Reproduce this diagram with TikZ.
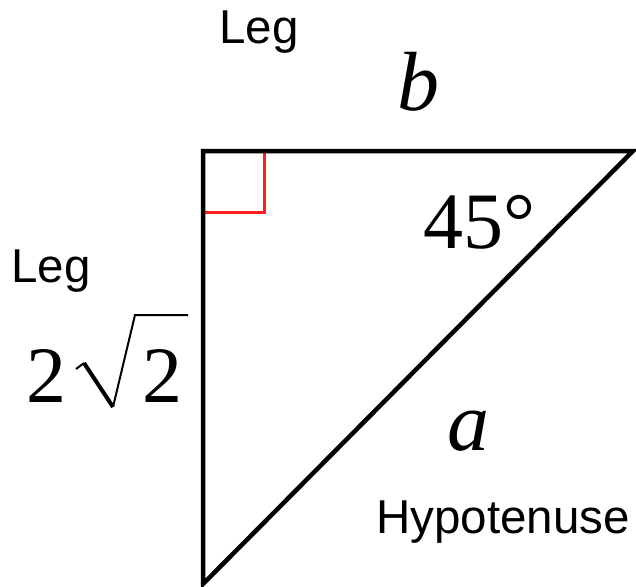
\documentclass[tikz,border=0pt]{standalone}
\usepackage{fontspec}
\newfontfamily\labelfont{Liberation Sans}
\newfontfamily\mathfont{Liberation Serif}
\definecolor{markred}{RGB}{255,30,30}
\begin{document}
\begin{tikzpicture}[x=1pt,y=-1pt,
  side/.style={line width=4.5pt,line join=miter},
  rightmark/.style={markred,line width=3pt},
  wordlbl/.style={font=\labelfont\fontsize{47.5}{52}\selectfont,anchor=base,inner sep=0pt},
  varlbl/.style={font=\mathfont\itshape\fontsize{84}{90}\selectfont,anchor=base,inner sep=0pt},
  numlbl/.style={font=\mathfont\fontsize{80}{90}\selectfont,anchor=base,inner sep=0pt}]
\useasboundingbox (0,0) rectangle (636,586);
\coordinate (A) at (203,151);
\coordinate (B) at (633,151);
\coordinate (C) at (203,584);
\coordinate (R1) at (264,151);
\coordinate (R2) at (264,212);
\coordinate (R3) at (203,212);
\draw[rightmark] (R1) -- (R2) -- (R3);
\draw[side] (C) -- (A) -- (B) -- cycle;
\node[wordlbl] (legtop) at (259,44) {Leg};
\node[wordlbl] (legleft) at (51,282) {Leg};
\node[wordlbl] (hyp) at (503,533) {Hypotenuse};
\node[varlbl] (b) at (418,110) {b};
\node[numlbl] (ang) at (479,248) {45°};
\node[varlbl] (a) at (468,450) {a};
\node[numlbl] (two1) at (46,402) {2};
\node[numlbl] (two2) at (162,402) {2};
\coordinate (S0) at (76,369);
\coordinate (S1) at (84,363);
\coordinate (S2) at (113,407);
\coordinate (S3) at (135,315);
\coordinate (S4) at (188,315);
\draw[line width=2pt] (S0) -- (S1);
\draw[line width=4pt] (S1) -- (S2);
\draw[line width=2pt,line join=miter] (S2) -- (S3) -- (S4);
\end{tikzpicture}
\end{document}
